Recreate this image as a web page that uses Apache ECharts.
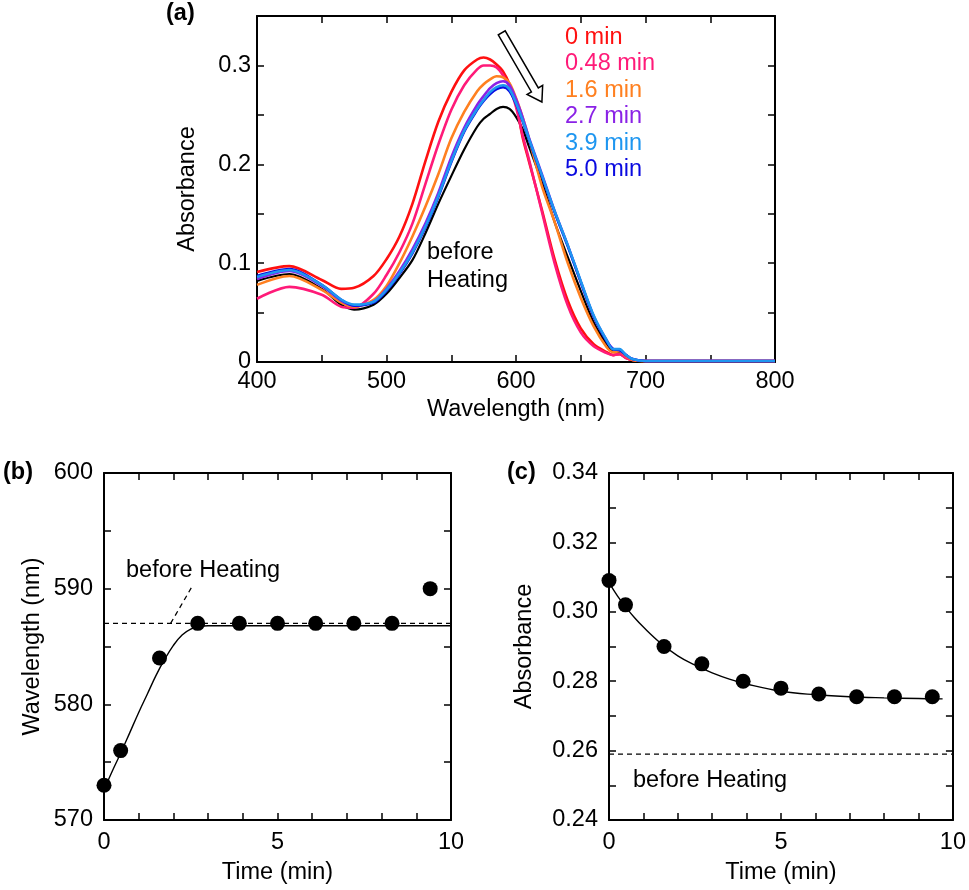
<!DOCTYPE html>
<html lang="en">
<head>
    <meta charset="UTF-8">
    <title>Absorption spectra during heating</title>
    <style>
        html, body { margin: 0; padding: 0; background: #fff; }
        #main { width: 969px; height: 890px; }
    </style>
</head>
<body>
<div id="main"></div>
<script src="https://cdn.jsdelivr.net/npm/echarts/dist/echarts.min.js"></script>
<script type="text/javascript">
    // (a) spectra on a common wavelength grid
    var wavelength = [400, 425, 450, 465, 475, 490, 500, 510, 520, 530, 540, 550, 560, 570, 575, 580, 585, 590, 595,
        600, 605, 610, 620, 630, 640, 650, 660, 670, 675, 680, 685, 690, 700, 750, 800];
    var absBefore = [0.082, 0.089, 0.074, 0.058, 0.053, 0.058, 0.069, 0.085, 0.103, 0.130, 0.160, 0.188, 0.215, 0.238, 0.246, 0.251, 0.256, 0.258, 0.256,
        0.248, 0.236, 0.218, 0.182, 0.141, 0.106, 0.072, 0.040, 0.018, 0.011, 0.010, 0.005, 0.002, 0.001, 0.001, 0.001];
    var abs0 = [0.091, 0.097, 0.083, 0.074, 0.075, 0.087, 0.104, 0.127, 0.160, 0.203, 0.243, 0.273, 0.295, 0.306, 0.308, 0.306, 0.301, 0.294, 0.281,
        0.262, 0.228, 0.203, 0.154, 0.103, 0.062, 0.034, 0.018, 0.010, 0.007, 0.008, 0.004, 0.002, 0.001, 0.001, 0.001];
    var abs048 = [0.064, 0.076, 0.068, 0.056, 0.055, 0.069, 0.088, 0.111, 0.140, 0.180, 0.220, 0.255, 0.280, 0.296, 0.300, 0.300, 0.298, 0.290, 0.278,
        0.258, 0.230, 0.205, 0.152, 0.099, 0.057, 0.030, 0.016, 0.009, 0.007, 0.008, 0.004, 0.002, 0.001, 0.001, 0.001];
    var abs16 = [0.078, 0.087, 0.073, 0.060, 0.056, 0.063, 0.077, 0.100, 0.127, 0.157, 0.190, 0.226, 0.253, 0.274, 0.281, 0.286, 0.289, 0.288, 0.282,
        0.267, 0.248, 0.226, 0.178, 0.141, 0.100, 0.065, 0.036, 0.015, 0.010, 0.011, 0.006, 0.002, 0.001, 0.001, 0.001];
    var abs27 = [0.084, 0.092, 0.077, 0.062, 0.057, 0.061, 0.074, 0.092, 0.114, 0.140, 0.171, 0.207, 0.237, 0.260, 0.269, 0.277, 0.282, 0.284, 0.280,
        0.266, 0.248, 0.227, 0.190, 0.152, 0.118, 0.081, 0.046, 0.022, 0.013, 0.012, 0.007, 0.003, 0.001, 0.001, 0.001];
    var abs39 = [0.086, 0.093, 0.078, 0.063, 0.058, 0.061, 0.073, 0.090, 0.111, 0.137, 0.168, 0.203, 0.234, 0.256, 0.265, 0.273, 0.278, 0.280, 0.276,
        0.262, 0.245, 0.226, 0.189, 0.152, 0.118, 0.082, 0.047, 0.022, 0.013, 0.013, 0.007, 0.003, 0.001, 0.001, 0.001];
    var abs50 = [0.087, 0.094, 0.078, 0.063, 0.057, 0.060, 0.072, 0.089, 0.110, 0.136, 0.167, 0.202, 0.233, 0.255, 0.264, 0.271, 0.276, 0.278, 0.274,
        0.261, 0.244, 0.225, 0.188, 0.151, 0.117, 0.081, 0.046, 0.021, 0.013, 0.012, 0.007, 0.003, 0.001, 0.001, 0.001];

    // (b) and (c) time courses
    var times = [0, 0.48, 1.6, 2.7, 3.9, 5.0, 6.1, 7.2, 8.3, 9.4];
    var peakWl = [573, 576, 584, 587, 587, 587, 587, 587, 587, 590];
    var peakAbs = [0.309, 0.302, 0.290, 0.285, 0.280, 0.278, 0.2763, 0.2755, 0.2755, 0.2755];

    // fitted curves
    var fitWlT = [0, 0.25, 0.5, 0.75, 1.0, 1.25, 1.5, 1.75, 2.0, 2.25, 2.5, 2.75, 3.0, 10];
    var fitWl = [572.6, 574.3, 575.9, 577.6, 579.3, 580.9, 582.5, 583.9, 585.1, 586.0, 586.5, 586.75, 586.8, 586.8];
    var fitAbsT = [0, 0.25, 0.5, 0.75, 1.0, 1.5, 2.0, 2.5, 3.0, 3.5, 4.0, 5.0, 6.0, 7.0, 8.0, 9.0, 9.7];
    var fitAbs = [0.3085, 0.3045, 0.3012, 0.2982, 0.2956, 0.2910, 0.2873, 0.2846, 0.2824, 0.2806, 0.2792, 0.2771, 0.2761, 0.2755, 0.2752, 0.2750, 0.2749];

    var beforeWl = 587;
    var beforeAbs = 0.259;

    var spectraNames = ['before Heating', '0 min', '0.48 min', '1.6 min', '2.7 min', '3.9 min', '5.0 min'];
    var spectraColors = ['#000000', '#ff1010', '#ff1a78', '#ff8020', '#8a22e6', '#1e96f0', '#0a0ae0'];
    var spectraData = [absBefore, abs0, abs048, abs16, abs27, abs39, abs50];

    var FONT = '"Liberation Sans", Arial, Helvetica, sans-serif';
    var FS = 23.5;

    function pairs(xs, ys) {
        var res = [];
        for (var i = 0; i < xs.length; i++) {
            res.push([xs[i], ys[i]]);
        }
        return res;
    }

    function baseAxis(grid, pos, min, max, interval, fmt, extra) {
        var ax = {
            type: 'value',
            gridIndex: grid,
            position: pos,
            min: min,
            max: max,
            interval: interval,
            splitLine: {show: false},
            axisLine: {show: true, onZero: false, lineStyle: {color: '#000', width: 2}},
            axisTick: {show: true, inside: true, length: 7, lineStyle: {color: '#000', width: 1.5}},
            axisLabel: {show: !!fmt, formatter: fmt, color: '#000', fontSize: FS, fontFamily: FONT, margin: 8}
        };
        for (var k in extra) ax[k] = extra[k];
        return ax;
    }

    var chart = echarts.init(document.getElementById('main'));

    var series = [];
    // spectra: draw black first, light blue last
    var order = [0, 1, 2, 3, 4, 6, 5];
    order.forEach(function (i) {
        series.push({
            name: spectraNames[i],
            type: 'line',
            xAxisIndex: 0,
            yAxisIndex: 0,
            data: pairs(wavelength, spectraData[i]),
            showSymbol: false,
            smooth: 0.3,
            lineStyle: {color: spectraColors[i], width: i === 0 ? 2.2 : 2.6},
            z: 2
        });
    });

    // (b)
    series.push({
        type: 'line', xAxisIndex: 2, yAxisIndex: 2,
        data: [[0, beforeWl], [10, beforeWl]],
        showSymbol: false,
        lineStyle: {color: '#000', width: 1.3, type: [5, 4]}
    });
    series.push({
        type: 'line', xAxisIndex: 2, yAxisIndex: 2,
        data: [[1.92, beforeWl], [2.56, 590.3]],
        showSymbol: false,
        lineStyle: {color: '#000', width: 1.3, type: [5, 4]}
    });
    series.push({
        type: 'line', xAxisIndex: 2, yAxisIndex: 2,
        data: pairs(fitWlT, fitWl),
        showSymbol: false,
        smooth: 0.4,
        lineStyle: {color: '#000', width: 1.4}
    });
    series.push({
        type: 'scatter', xAxisIndex: 2, yAxisIndex: 2,
        data: pairs(times, peakWl),
        symbolSize: 15,
        itemStyle: {color: '#000', opacity: 1},
        z: 5
    });

    // (c)
    series.push({
        type: 'line', xAxisIndex: 4, yAxisIndex: 4,
        data: [[0, beforeAbs], [10, beforeAbs]],
        showSymbol: false,
        lineStyle: {color: '#000', width: 1.3, type: [5, 4]}
    });
    series.push({
        type: 'line', xAxisIndex: 4, yAxisIndex: 4,
        data: pairs(fitAbsT, fitAbs),
        showSymbol: false,
        smooth: 0.4,
        lineStyle: {color: '#000', width: 1.4}
    });
    series.push({
        type: 'scatter', xAxisIndex: 4, yAxisIndex: 4,
        data: pairs(times, peakAbs),
        symbolSize: 15,
        itemStyle: {color: '#000', opacity: 1},
        z: 5
    });

    var fmtWl = function (v) { return Math.round(v) % 100 === 0 ? String(Math.round(v)) : ''; };
    var fmtAbsA = function (v) {
        var r = Math.round(v * 100);
        if (r % 10 !== 0) return '';
        return r === 0 ? '0' : (r / 100).toFixed(1);
    };
    var fmtT = function (v) { return Math.round(v) % 5 === 0 ? String(Math.round(v)) : ''; };
    var fmtWlB = function (v) { return Math.round(v) % 10 === 0 ? String(Math.round(v)) : ''; };
    var fmtAbsC = function (v) {
        var r = Math.round(v * 100);
        return r % 2 === 0 ? (r / 100).toFixed(2) : '';
    };

    var nameStyle = {color: '#000', fontSize: FS, fontFamily: FONT};

    var option = {
        backgroundColor: '#fff',
        animation: false,
        grid: [
            {left: 257, top: 16, width: 518, height: 346},
            {left: 104, top: 473, width: 347, height: 347},
            {left: 609, top: 473, width: 346, height: 347}
        ],
        xAxis: [
            baseAxis(0, 'bottom', 400, 800, 50, fmtWl, {name: 'Wavelength (nm)', nameLocation: 'middle', nameGap: 36, nameTextStyle: nameStyle}),
            baseAxis(0, 'top', 400, 800, 50, null, {}),
            baseAxis(1, 'bottom', 0, 10, 1, fmtT, {name: 'Time (min)', nameLocation: 'middle', nameGap: 41, nameTextStyle: nameStyle}),
            baseAxis(1, 'top', 0, 10, 1, null, {}),
            baseAxis(2, 'bottom', 0, 10, 1, fmtT, {name: 'Time (min)', nameLocation: 'middle', nameGap: 41, nameTextStyle: nameStyle}),
            baseAxis(2, 'top', 0, 10, 1, null, {})
        ],
        yAxis: [
            baseAxis(0, 'left', 0, 0.35, 0.05, fmtAbsA, {name: 'Absorbance', nameLocation: 'middle', nameGap: 57, nameTextStyle: nameStyle}),
            baseAxis(0, 'right', 0, 0.35, 0.05, null, {}),
            baseAxis(1, 'left', 570, 600, 5, fmtWlB, {name: 'Wavelength (nm)', nameLocation: 'middle', nameGap: 59, nameTextStyle: nameStyle}),
            baseAxis(1, 'right', 570, 600, 5, null, {}),
            baseAxis(2, 'left', 0.24, 0.34, 0.01, fmtAbsC, {name: 'Absorbance', nameLocation: 'middle', nameGap: 72, nameTextStyle: nameStyle}),
            baseAxis(2, 'right', 0.24, 0.34, 0.01, null, {})
        ],
        series: series
    };
    option.yAxis[0].axisLabel.margin = 6;
    option.yAxis[2].axisLabel.margin = 11;
    option.yAxis[4].axisLabel.margin = 11;
    option.xAxis[2].axisLabel.margin = 11;
    option.xAxis[4].axisLabel.margin = 11;

    chart.setOption(option);

    // annotations
    var graphics = [];
    function txt(s, x, y, color, bold) {
        graphics.push({
            type: 'text', z: 10,
            style: {
                text: s, x: x, y: y, fill: color || '#000',
                font: (bold ? 'bold ' : '') + FS + 'px ' + FONT,
                verticalAlign: 'middle', textAlign: 'left'
            }
        });
    }
    txt('(a)', 166, 14, '#000', true);
    txt('(b)', 3, 473, '#000', true);
    txt('(c)', 507, 473, '#000', true);

    var legendY = [38, 64, 91, 117, 144, 170];
    for (var i = 1; i < spectraNames.length; i++) {
        txt(spectraNames[i], 565, legendY[i - 1], spectraColors[i], false);
    }
    txt('before', 427, 253, '#000', false);
    txt('Heating', 427, 281, '#000', false);
    txt('before Heating', 126, 571, '#000', false);
    txt('before Heating', 633, 781, '#000', false);

    // hollow arrow in panel (a)
    var p1 = chart.convertToPixel({xAxisIndex: 0, yAxisIndex: 0}, [589, 0.333]);
    var p2 = chart.convertToPixel({xAxisIndex: 0, yAxisIndex: 0}, [620, 0.263]);
    var dx = p2[0] - p1[0], dy = p2[1] - p1[1];
    var len = Math.sqrt(dx * dx + dy * dy);
    var ux = dx / len, uy = dy / len, nx = -uy, ny = ux;
    var w = 4, h = 9, L = 14;
    var bx = p2[0] - ux * L, by = p2[1] - uy * L;
    graphics.push({
        type: 'polygon', z: 10,
        shape: {
            points: [
                [p1[0] + nx * w, p1[1] + ny * w],
                [bx + nx * w, by + ny * w],
                [bx + nx * h, by + ny * h],
                [p2[0], p2[1]],
                [bx - nx * h, by - ny * h],
                [bx - nx * w, by - ny * w],
                [p1[0] - nx * w, p1[1] - ny * w]
            ]
        },
        style: {fill: '#fff', stroke: '#000', lineWidth: 1.5}
    });

    chart.setOption({graphic: graphics});
</script>
</body>
</html>
